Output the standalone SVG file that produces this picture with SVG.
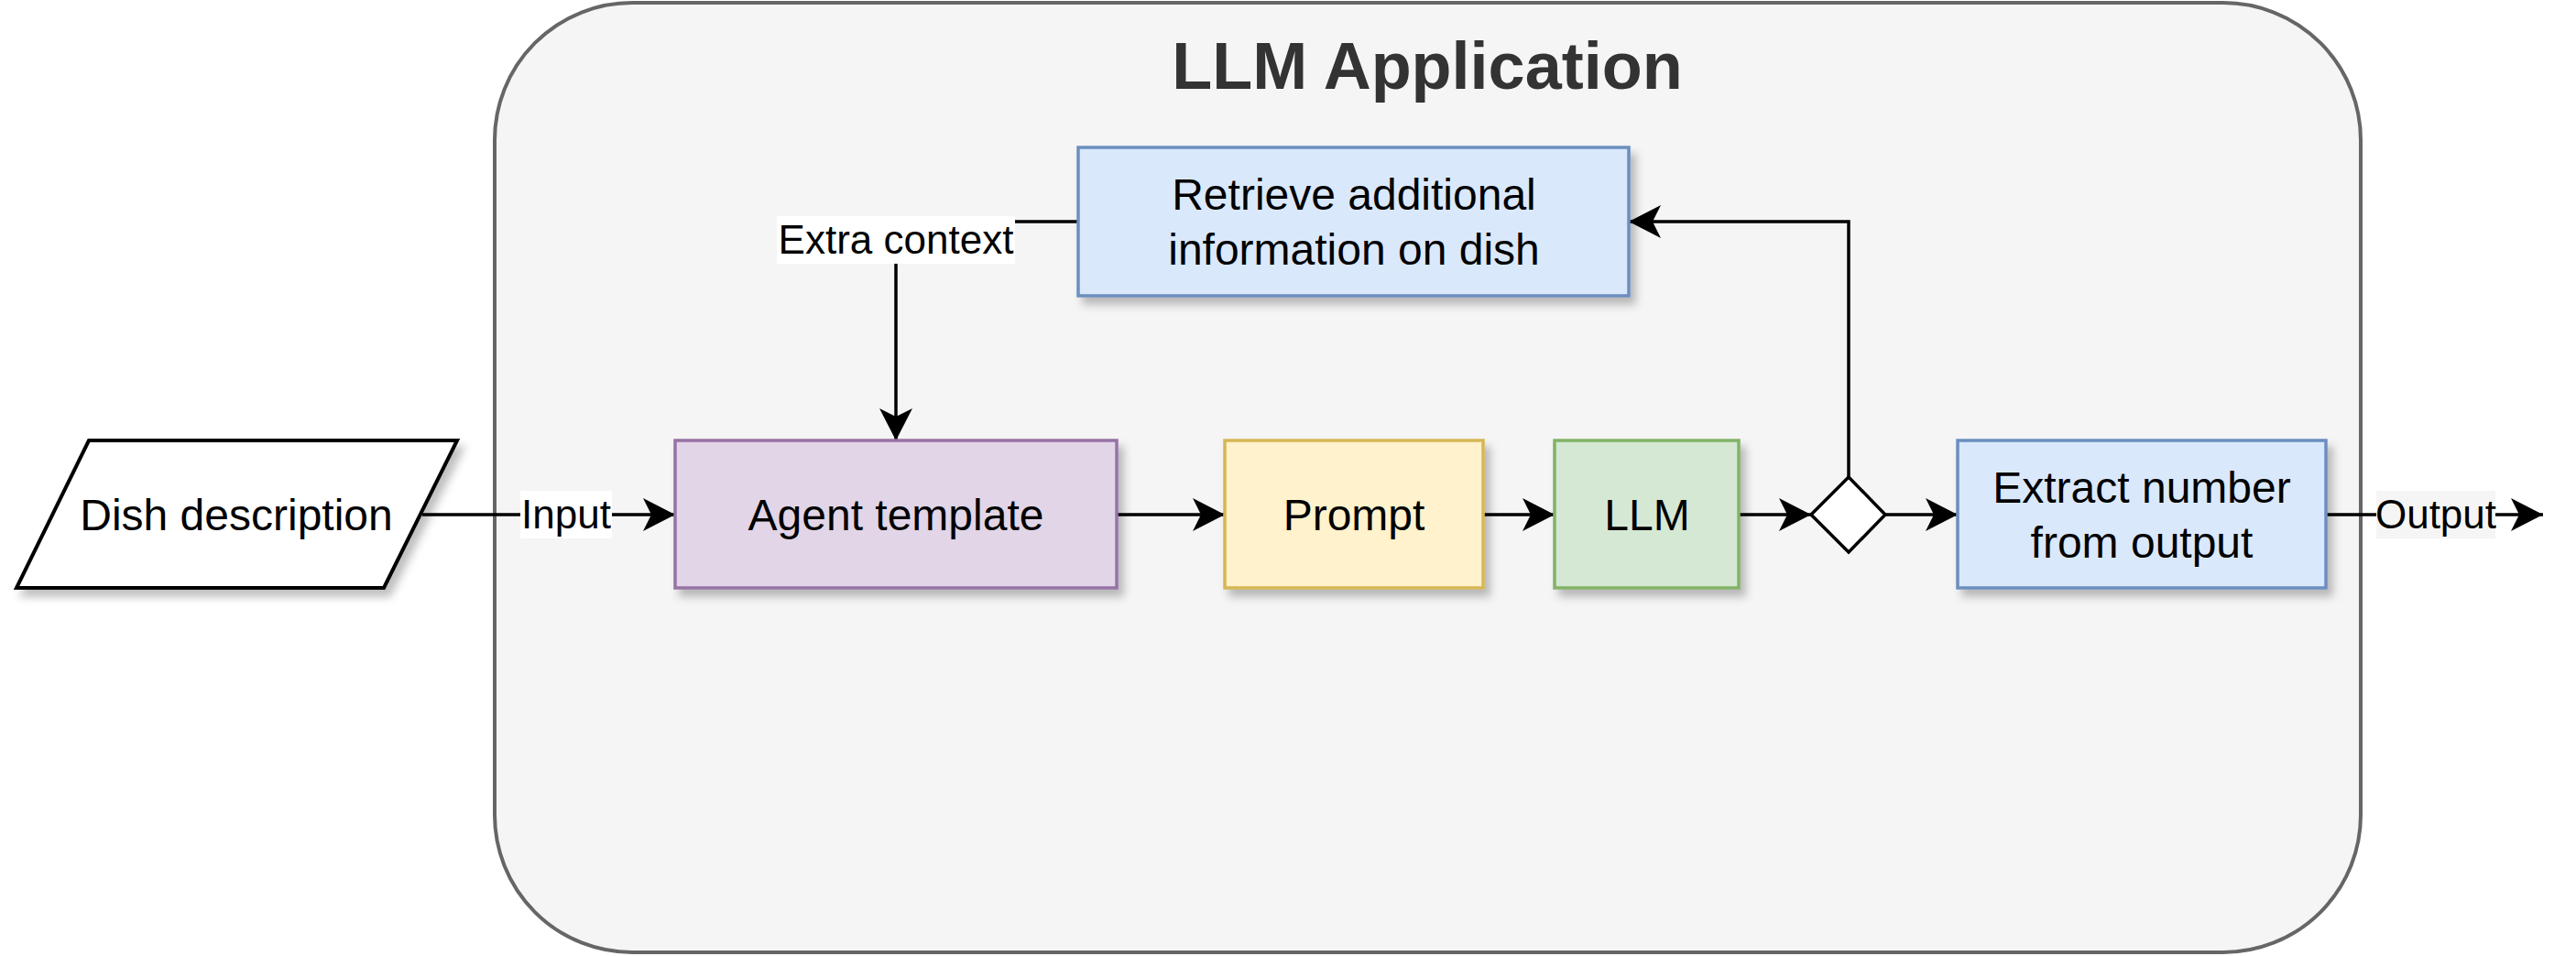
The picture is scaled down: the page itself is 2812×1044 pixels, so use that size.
<svg xmlns="http://www.w3.org/2000/svg" width="2812" height="1044" viewBox="0 0 2812 1044">
<defs>
<filter id="sh" x="-10%" y="-10%" width="130%" height="140%"><feDropShadow dx="6" dy="8" stdDeviation="5" flood-color="#000" flood-opacity="0.25"/></filter>
<marker id="ar" markerUnits="userSpaceOnUse" markerWidth="36" markerHeight="36" refX="35" refY="18" orient="auto" viewBox="0 0 36 36"><path d="M0,0 L35,18 L0,36 L9,18 Z" fill="#000"/></marker>
<style>
text{font-family:"Liberation Sans",Arial,sans-serif;fill:#000;text-anchor:middle}
.n{font-size:48px}
.l{font-size:44px}
.c{stroke:#000;stroke-width:3.5;fill:none}
.box{stroke-width:3.5}
</style>
</defs>
<g id="container">
<rect x="540" y="3" width="2037" height="1037" rx="150" ry="150" fill="#f5f5f5" stroke="#666" stroke-width="4"/>
<text x="1558" y="97" style="font-size:72px;font-weight:bold;fill:#333">LLM Application</text>
</g>
<g id="connectors">
<path class="c" d="M461,562 H737" marker-end="url(#ar)"/>
<path class="c" d="M1219,562 H1337" marker-end="url(#ar)"/>
<path class="c" d="M1619,562 H1697" marker-end="url(#ar)"/>
<path class="c" d="M1898,562 H1977" marker-end="url(#ar)"/>
<path class="c" d="M2058,562 H2137" marker-end="url(#ar)"/>
<path class="c" d="M2539,562 H2776" marker-end="url(#ar)"/>
<path class="c" d="M2018,521 V242 H1778" marker-end="url(#ar)"/>
<path class="c" d="M1177,242 H978 V481" marker-end="url(#ar)"/>
<rect x="568" y="536" width="100" height="52" fill="#fff"/>
<text class="l" x="618" y="577">Input</text>
<rect x="848" y="236" width="260" height="52" fill="#fff"/>
<text class="l" x="978" y="277">Extra context</text>
<rect x="2594" y="536" width="130" height="52" fill="#f5f5f5"/>
<text class="l" x="2659" y="577">Output</text>
</g>
<g id="dish">
<polygon points="97,481 499,481 419,642 18,642" fill="#fff" stroke="#000" stroke-width="4" filter="url(#sh)"/>
<text class="n" x="258" y="579">Dish description</text>
</g>
<g id="retrieve">
<rect class="box" x="1177" y="161" width="601" height="162" fill="#dae8fc" stroke="#6c8ebf" filter="url(#sh)"/>
<text class="n" x="1478" y="229">Retrieve additional</text>
<text class="n" x="1478" y="289">information on dish</text>
</g>
<g id="agent">
<rect class="box" x="737" y="481" width="482" height="161" fill="#e1d5e7" stroke="#9673a6" filter="url(#sh)"/>
<text class="n" x="978" y="579">Agent template</text>
</g>
<g id="prompt">
<rect class="box" x="1337" y="481" width="282" height="161" fill="#fff2cc" stroke="#d6b656" filter="url(#sh)"/>
<text class="n" x="1478" y="579">Prompt</text>
</g>
<g id="llm">
<rect class="box" x="1697" y="481" width="201" height="161" fill="#d5e8d4" stroke="#82b366" filter="url(#sh)"/>
<text class="n" x="1798" y="579">LLM</text>
</g>
<g id="decision">
<polygon points="2018,521 2058,562 2018,603 1977,562" fill="#fff" stroke="#000" stroke-width="3.5"/>
</g>
<g id="extract">
<rect class="box" x="2137" y="481" width="402" height="161" fill="#dae8fc" stroke="#6c8ebf" filter="url(#sh)"/>
<text class="n" x="2338" y="549">Extract number</text>
<text class="n" x="2338" y="609">from output</text>
</g>
</svg>
